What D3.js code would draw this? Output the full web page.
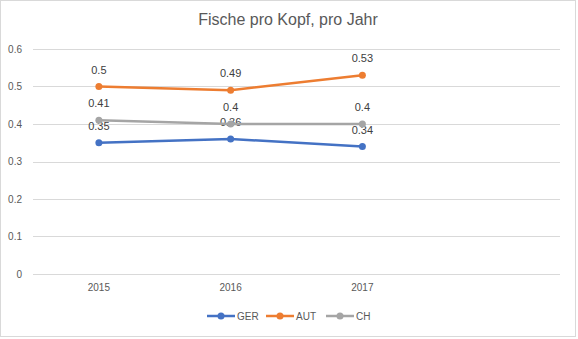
<!DOCTYPE html>
<html lang="de">
<head>
  <meta charset="UTF-8">
  <title>Fische pro Kopf</title>
  <script src="https://d3js.org/d3.v7.min.js"></script>
  <style>
    body { margin: 0; padding: 0; background: #fff; font-family: "Liberation Sans", Arial, sans-serif; }
    .axis text { fill: #595959; font-size: 10px; }
    .grid line { stroke: #d9d9d9; }
    .label { fill: #404040; font-size: 11px; }
  </style>
</head>
<body>
  <div id="chart"></div>
  <script>
    const years = ["2015", "2016", "2017", ""];
    const yTicks = [0, 0.1, 0.2, 0.3, 0.4, 0.5, 0.6];
    const seriesNames = ["GER", "AUT", "CH"];
    const ger = [0.35, 0.36, 0.34];
    const aut = [0.5, 0.49, 0.53];
    const ch = [0.41, 0.4, 0.4];
    const colors = ["#4472c4", "#ed7d31", "#a5a5a5"];

    const W = 578, H = 339;
    const margin = { top: 49, right: 18, bottom: 65, left: 33 };
    const width = W - margin.left - margin.right;
    const height = H - margin.top - margin.bottom;

    const svg = d3.select("#chart").append("svg")
      .attr("width", W).attr("height", H);

    svg.append("rect")
      .attr("x", 0.5).attr("y", 0.5)
      .attr("width", 575).attr("height", 336)
      .attr("fill", "#fff").attr("stroke", "#d9d9d9");

    svg.append("text")
      .attr("x", 288).attr("y", 25)
      .attr("text-anchor", "middle")
      .attr("fill", "#595959")
      .style("font-size", "16px")
      .text("Fische pro Kopf, pro Jahr");

    const g = svg.append("g").attr("transform", `translate(${margin.left},${margin.top})`);

    const x = d3.scaleBand().domain(years.map((d, i) => i)).range([0, width]);
    const y = d3.scaleLinear().domain([0, 0.6]).range([height, 0]);

    // gridlines
    g.append("g").attr("class", "grid")
      .selectAll("line").data(yTicks).enter().append("line")
      .attr("x1", 0).attr("x2", width)
      .attr("y1", d => Math.round(y(d)) + 0.5).attr("y2", d => Math.round(y(d)) + 0.5);

    const yAxis = g.append("g").attr("class", "axis")
      .call(d3.axisLeft(y).tickValues(yTicks).tickSize(0).tickPadding(11).tickFormat(d => d3.format("")(+d.toFixed(1))));
    yAxis.select(".domain").remove();

    const xAxis = g.append("g").attr("class", "axis")
      .attr("transform", `translate(0,${height})`)
      .call(d3.axisBottom(x).tickSize(0).tickPadding(10).tickFormat(i => years[i]));
    xAxis.select(".domain").remove();

    const data = [ger, aut, ch];
    const line = d3.line().x((d, i) => x(i) + x.bandwidth() / 2).y(d => y(d));

    data.forEach((vals, s) => {
      const sg = g.append("g");
      sg.append("path").datum(vals)
        .attr("d", line).attr("fill", "none")
        .attr("stroke", colors[s]).attr("stroke-width", 2.5)
        .attr("stroke-linecap", "round");
      sg.selectAll("circle").data(vals).enter().append("circle")
        .attr("cx", (d, i) => x(i) + x.bandwidth() / 2)
        .attr("cy", d => y(d))
        .attr("r", 3.5).attr("fill", colors[s]);
      sg.selectAll("text").data(vals).enter().append("text")
        .attr("class", "label")
        .attr("x", (d, i) => x(i) + x.bandwidth() / 2)
        .attr("y", d => y(d) - 13)
        .attr("text-anchor", "middle")
        .text(d => d);
    });

    // legend
    const legendX = [207, 266, 326];
    const lg = svg.append("g").attr("transform", "translate(0,316)");
    seriesNames.forEach((name, s) => {
      lg.append("line")
        .attr("x1", legendX[s]).attr("x2", legendX[s] + 28)
        .attr("y1", 0).attr("y2", 0)
        .attr("stroke", colors[s]).attr("stroke-width", 2.5);
      lg.append("circle")
        .attr("cx", legendX[s] + 14).attr("cy", 0).attr("r", 3.5).attr("fill", colors[s]);
      lg.append("text")
        .attr("x", legendX[s] + 30).attr("y", 4)
        .attr("fill", "#595959").style("font-size", "10px")
        .text(name);
    });
  </script>
</body>
</html>
